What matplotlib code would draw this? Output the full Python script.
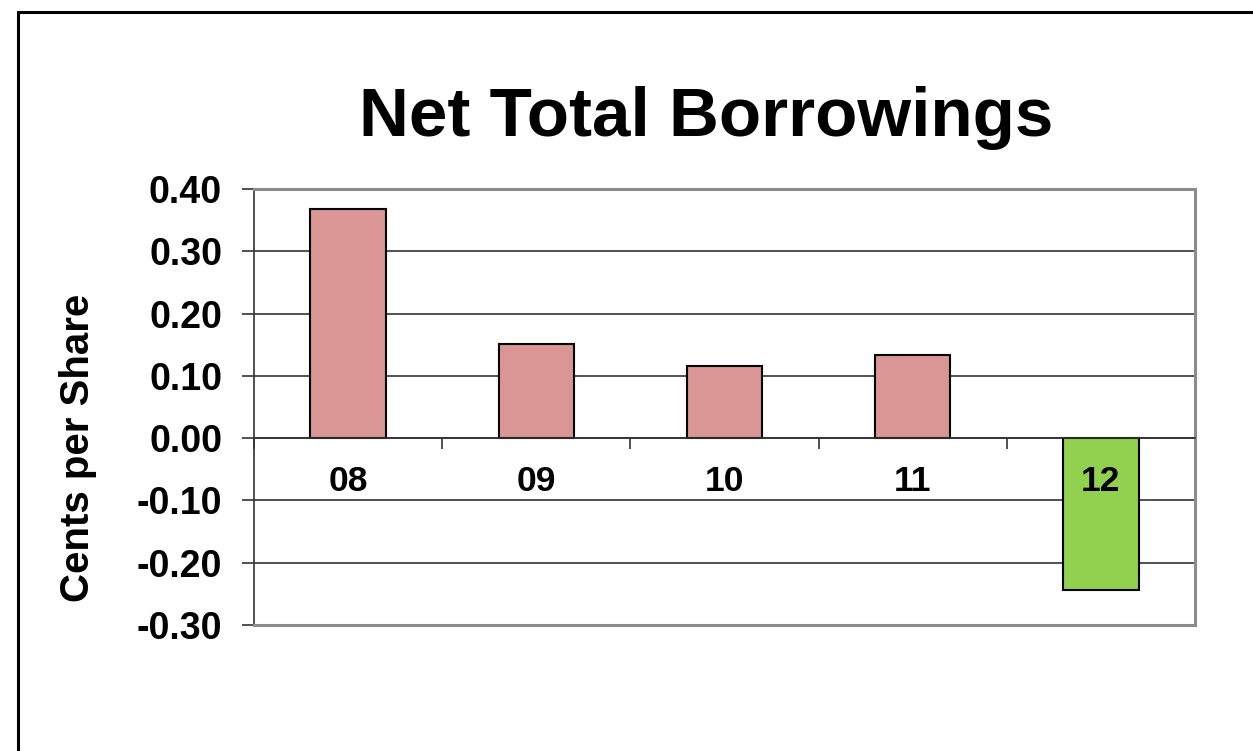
import matplotlib
matplotlib.use("Agg")
import matplotlib.pyplot as plt
from matplotlib.lines import Line2D
import numpy as np

categories = ["08", "09", "10", "11", "12"]
values = [0.368, 0.151, 0.116, 0.133, -0.244]
bar_colors = ["#D99694", "#D99694", "#D99694", "#D99694", "#92D050"]
yticks = [0.40, 0.30, 0.20, 0.10, 0.00, -0.10, -0.20, -0.30]
title = "Net Total Borrowings"
ylabel = "Cents per Share"

plt.rcParams['font.family'] = ['Liberation Sans', 'DejaVu Sans']

W, H = 1253, 751
fig = plt.figure(figsize=(W/100, H/100), dpi=100)
ax = fig.add_axes([254/W, 1-625/H, (1195-254)/W, (625-189)/H])

x = np.arange(len(categories))
ax.bar(x, values, width=0.4, color=bar_colors, edgecolor='black', linewidth=1.5, zorder=2)

ax.set_xlim(-0.5, len(categories)-0.5)
ax.set_ylim(min(yticks), max(yticks))
ax.set_axisbelow(True)
ax.set_yticks(yticks)
ax.set_yticklabels([f"{v:.2f}" for v in yticks], fontsize=27, fontweight='bold')
ax.yaxis.grid(True, color='#333333', linewidth=1.2)
ax.tick_params(axis='y', direction='out', length=9, width=1.2, color='#333333', pad=14)

# x axis at zero
ax.spines['bottom'].set_position(('data', 0))
ax.spines['bottom'].set_color('#333333')
ax.spines['bottom'].set_linewidth(1.2)
ax.set_xticks(x)
ax.set_xticklabels([])
ax.tick_params(axis='x', which='major', length=0)
ax.set_xticks(np.arange(len(categories)+1)-0.5, minor=True)
ax.tick_params(axis='x', which='minor', direction='out', length=8, width=1.2, color='#333333')

ax.spines['left'].set_color('#333333')
ax.spines['left'].set_linewidth(1.2)
for s in ['top', 'right']:
    ax.spines[s].set_color('#8c8c8c')
    ax.spines[s].set_linewidth(2.2)
ax.axhline(min(yticks), color='#8c8c8c', linewidth=2.2, zorder=3, clip_on=False)

for xi, lab in zip(x, categories):
    ax.annotate(lab, xy=(xi, 0), xytext=(0, -31), textcoords='offset points',
                ha='center', va='center', fontsize=25.5, fontweight='bold', zorder=5)

fig.text(706/W, 1-118/H, title, ha='center', va='center', fontsize=49.8, fontweight='bold')
fig.text(78/W, 1-448/H, ylabel, ha='center', va='center', rotation=90, fontsize=29, fontweight='bold')

fig.add_artist(Line2D([18/W, 18/W], [0, 1-12/H], color='black', linewidth=2.2, transform=fig.transFigure))
fig.add_artist(Line2D([18/W, 1], [1-12/H, 1-12/H], color='black', linewidth=2.2, transform=fig.transFigure))

fig.savefig("out.png", dpi=100)
